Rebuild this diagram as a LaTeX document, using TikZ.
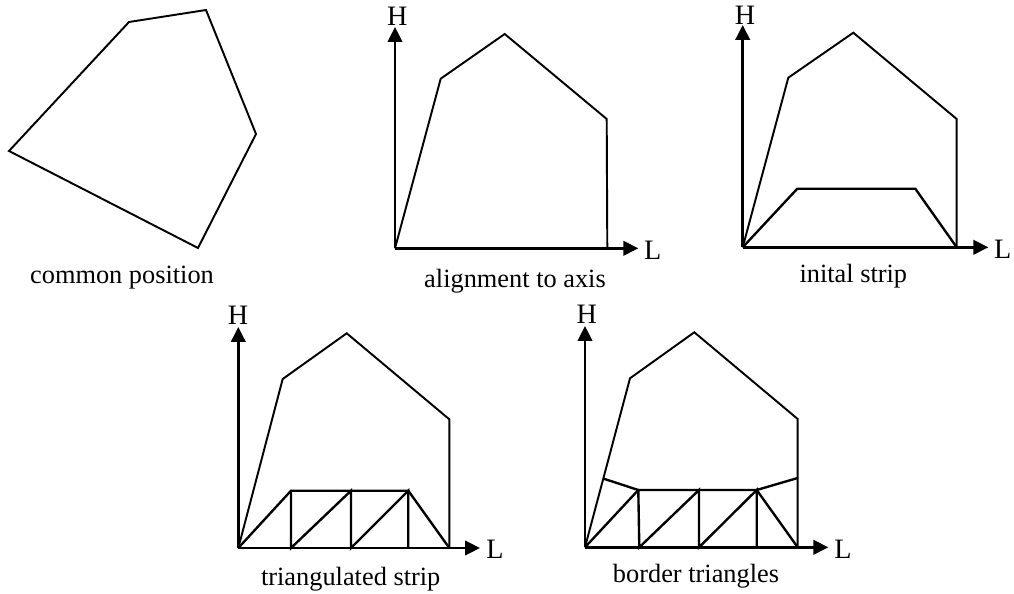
\documentclass[tikz,border=0pt]{standalone}
\usepackage{fontspec}
\setmainfont{Liberation Serif}
\usetikzlibrary{arrows.meta}
\begin{document}
\begin{tikzpicture}[
    x=0.02cm, y=-0.02cm,
    outline/.style={line width=1.1pt, line join=miter},
    strip/.style={line width=1.35pt, line join=miter},
    axis/.style={-{Triangle[length=0.3cm, width=0.29cm]}, line width=1.45pt},
    caption/.style={inner sep=0pt, font=\fontsize{15}{18}\selectfont},
    axislabel/.style={inner sep=0pt, font=\fontsize{16}{18}\selectfont}
]
\useasboundingbox (0,0) rectangle (1014,594);
% common position
\coordinate (a1) at (9,151);
\coordinate (a2) at (129,22);
\coordinate (a3) at (206,10);
\coordinate (a4) at (256,134);
\coordinate (a5) at (198,248);
\draw[outline] (a1) -- (a2) -- (a3) -- (a4) -- (a5) -- cycle;
\node[caption] (capa) at (122,278) {common position};
% alignment to axis
\coordinate (o2) at (395,248.3);
\coordinate (h2) at (395,27);
\coordinate (l2) at (638.3,248.3);
\coordinate (b1) at (440.7,78.7);
\coordinate (b2) at (504.7,34);
\coordinate (b3) at (606.7,119);
\coordinate (b4) at (607.3,248.3);
\draw[axis] (o2) -- (h2);
\draw[axis] (o2) -- (l2);
\draw[outline] (o2) -- (b1) -- (b2) -- (b3) -- (b4);
\node[axislabel] (hb) at (397.3,16) {H};
\node[axislabel] (lb) at (652.7,250) {L};
\node[caption] (capb) at (515,281) {alignment to axis};
% inital strip
\coordinate (o3) at (742.7,247.3);
\coordinate (h3) at (742.7,25);
\coordinate (l3) at (988.3,247.3);
\coordinate (c1) at (788.3,77.7);
\coordinate (c2) at (853.3,32.7);
\coordinate (c3) at (956.7,119);
\coordinate (c4) at (956.7,247.3);
\coordinate (c5) at (797.3,188.7);
\coordinate (c6) at (915.3,188.7);
\draw[axis] (o3) -- (h3);
\draw[axis] (o3) -- (l3);
\draw[outline] (o3) -- (c1) -- (c2) -- (c3) -- (c4);
\draw[strip] (o3) -- (c5) -- (c6) -- (c4);
\node[axislabel] (hc) at (745,15) {H};
\node[axislabel] (lc) at (1002.7,249) {L};
\node[caption] (capc) at (853.3,276) {inital strip};
% triangulated strip
\coordinate (o4) at (238.3,548);
\coordinate (h4) at (238.3,327);
\coordinate (l4) at (480,548);
\coordinate (d1) at (282.7,379);
\coordinate (d2) at (346.7,333.3);
\coordinate (d3) at (449.3,419.3);
\coordinate (d4) at (449.3,548);
\coordinate (d5) at (291,490.7);
\coordinate (d6) at (351,490.7);
\coordinate (d7) at (408.3,490.7);
\coordinate (d8) at (291,548);
\coordinate (d9) at (351,548);
\coordinate (d10) at (408.3,548);
\draw[axis] (o4) -- (h4);
\draw[axis] (o4) -- (l4);
\draw[outline] (o4) -- (d1) -- (d2) -- (d3) -- (d4);
\draw[strip] (o4) -- (d5) -- (d7) -- (d4);
\draw[strip] (d5) -- (d8) -- (d6) -- (d9) -- (d7) -- (d10);
\node[axislabel] (hd) at (238,315) {H};
\node[axislabel] (ld) at (495,549) {L};
\node[caption] (capd) at (350.7,579) {triangulated strip};
% border triangles
\coordinate (o5) at (585,547.3);
\coordinate (h5) at (585,326);
\coordinate (l5) at (828.3,547.3);
\coordinate (e1) at (630,378.3);
\coordinate (e2) at (694.3,332.3);
\coordinate (e3) at (797.7,419);
\coordinate (e4) at (797.7,547.3);
\coordinate (e5) at (638.3,490);
\coordinate (e6) at (699,490);
\coordinate (e7) at (756.7,490);
\coordinate (e8) at (639.3,547.3);
\coordinate (e9) at (699,547.3);
\coordinate (e10) at (756.7,547.3);
\coordinate (e11) at (603.7,478.7);
\coordinate (e12) at (797.7,478);
\draw[axis] (o5) -- (h5);
\draw[axis] (o5) -- (l5);
\draw[outline] (o5) -- (e1) -- (e2) -- (e3) -- (e4);
\draw[strip] (o5) -- (e5) -- (e7) -- (e4);
\draw[strip] (e5) -- (e8) -- (e6) -- (e9) -- (e7) -- (e10);
\draw[strip] (e11) -- (e5);
\draw[strip] (e7) -- (e12);
\node[axislabel] (he) at (586.7,314) {H};
\node[axislabel] (le) at (843,549) {L};
\node[caption] (cape) at (696,576) {border triangles};
\end{tikzpicture}
\end{document}
